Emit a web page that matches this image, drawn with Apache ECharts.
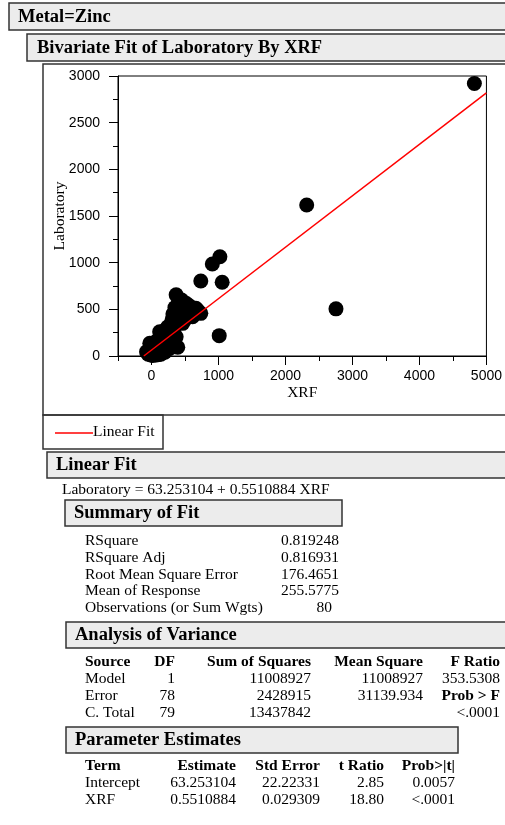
<!DOCTYPE html>
<html><head><meta charset="utf-8">
<script src="https://cdn.jsdelivr.net/npm/echarts@6/dist/echarts.min.js"></script>
<style>html,body{margin:0;padding:0;background:#fff}#c{width:505px;height:825px}</style>
</head><body><div id="c"></div>
<script>
const xrf = [4820,2317,2754,1021,908,1055,736,1011,368,392,137,309,
  -74,-25,49,122,270,122,221,368,318,465,613,736,663,515,
  -50,-30,-10,0,10,20,30,40,55,60,70,80,90,100,110,130,150,160,170,180,
  190,200,210,230,240,250,260,280,290,300,320,340,350,380,400,420,430,450,470,490,
  500,530,560,580,600,630,660,690,25,45,75,95,140,190];
const laboratory = [2920,1618,505,1064,986,790,804,218,655,93,243,393,
  46,136,100,46,82,260,225,207,386,350,421,457,511,565,
  20,70,10,40,80,5,55,20,150,70,30,120,60,15,180,90,130,60,200,110,
  160,40,280,150,310,100,200,330,250,140,450,300,520,420,560,470,380,600,430,500,
  390,470,540,460,510,480,460,490,25,85,10,35,20,70];
const fitIntercept = 63.253104;
const fitSlope = 0.5510884;
const xMin = -500, xMax = 5000, yMin = 0, yMax = 3000;
const xMajorTicks = [0,1000,2000,3000,4000,5000];

const summaryLabels = ['RSquare','RSquare Adj','Root Mean Square Error','Mean of Response','Observations (or Sum Wgts)'];
const summaryValues = ['0.819248','0.816931','176.4651','255.5775','80'];
const anovaHeader = ['Source','DF','Sum of Squares','Mean Square','F Ratio'];
const anovaSource = ['Model','Error','C. Total'];
const anovaDF = ['1','78','79'];
const anovaSS = ['11008927','2428915','13437842'];
const anovaMS = ['11008927','31139.934',''];
const anovaF = ['353.5308','Prob > F','<.0001'];
const paramHeader = ['Term','Estimate','Std Error','t Ratio','Prob>|t|'];
const paramTerm = ['Intercept','XRF'];
const paramEstimate = ['63.253104','0.5510884'];
const paramStdErr = ['22.22331','0.029309'];
const paramT = ['2.85','18.80'];
const paramP = ['0.0057','<.0001'];

const SERIF = '"Liberation Serif","Times New Roman",serif';
const SANS = '"Liberation Sans",Arial,sans-serif';
const HB = 'bold 18.5px ' + SERIF;
const TR = '15.5px ' + SERIF;
const TB = 'bold 15.5px ' + SERIF;

function txt(x, y, s, font, align) {
  return {type:'text', x:x, y:y, z:10, style:{text:s, font:font, fill:'#000', textAlign:align||'left', textVerticalAlign:'middle'}};
}
function box(x, y, w, h, fill) {
  return {type:'rect', z:5, shape:{x:x, y:y, width:w, height:h}, style:{fill:fill||'none', stroke:'#333', lineWidth:1.5}};
}

const g = [];
g.push(box(9,3,520,27,'#ececec'), txt(18,17,'Metal=Zinc',HB));
g.push(box(27,34,500,27,'#ececec'), txt(37,48,'Bivariate Fit of Laboratory By XRF',HB));
g.push(box(43,64,500,351));
g.push(box(43,415,120,34));
g.push({type:'line', z:10, shape:{x1:55,y1:433,x2:93,y2:433}, style:{stroke:'#ff0000', lineWidth:1.5}});
g.push(txt(93,432,'Linear Fit',TR));
g.push(box(47,452,480,26,'#ececec'), txt(56,465,'Linear Fit',HB));
g.push(txt(62,490,'Laboratory = ' + fitIntercept.toFixed(6) + ' + ' + fitSlope.toFixed(7) + ' XRF',TR));
g.push(box(65,500,277,26,'#ececec'), txt(74,513,'Summary of Fit',HB));
summaryLabels.forEach((s,i)=>{
  const y = 541 + i*16.8;
  g.push(txt(85,y,s,TR));
  g.push(txt(i===4?332:339,y,summaryValues[i],TR,'right'));
});
g.push(box(66,622,460,26,'#ececec'), txt(75,635,'Analysis of Variance',HB));
const anovaX = [85,175,311,423,500];
anovaHeader.forEach((s,j)=>g.push(txt(anovaX[j],662,s,TB,j===0?'left':'right')));
anovaSource.forEach((s,i)=>{
  const y = 679 + i*16.8;
  g.push(txt(anovaX[0],y,s,TR));
  g.push(txt(anovaX[1],y,anovaDF[i],TR,'right'));
  g.push(txt(anovaX[2],y,anovaSS[i],TR,'right'));
  g.push(txt(anovaX[3],y,anovaMS[i],TR,'right'));
  g.push(txt(anovaX[4],y,anovaF[i],anovaF[i]==='Prob > F'?TB:TR,'right'));
});
g.push(box(66,727,392,26,'#ececec'), txt(75,740,'Parameter Estimates',HB));
const parX = [85,236,320,384,455];
paramHeader.forEach((s,j)=>g.push(txt(parX[j],766,s,TB,j===0?'left':'right')));
paramTerm.forEach((s,i)=>{
  const y = 783 + i*16.8;
  g.push(txt(parX[0],y,s,TR));
  g.push(txt(parX[1],y,paramEstimate[i],TR,'right'));
  g.push(txt(parX[2],y,paramStdErr[i],TR,'right'));
  g.push(txt(parX[3],y,paramT[i],TR,'right'));
  g.push(txt(parX[4],y,paramP[i],TR,'right'));
});

const pts = xrf.map((x,i)=>[x, laboratory[i]]);
const fitX0 = -fitIntercept/fitSlope;
const fitLine = [[fitX0, fitIntercept + fitSlope*fitX0],[xMax, fitIntercept + fitSlope*xMax]];

const chart = echarts.init(document.getElementById('c'), null, {renderer:'canvas'});
chart.setOption({
  animation:false,
  backgroundColor:'#fff',
  grid:{left:118, top:76, width:373, height:280, show:true, borderColor:'#000', borderWidth:1, backgroundColor:'#fff'},
  xAxis:[{
    type:'value', min:xMin, max:xMax, interval:500,
    name:'XRF', nameLocation:'middle', nameGap:29, nameMoveOverlap:false,
    nameTextStyle:{fontFamily:SERIF, fontSize:15.5, color:'#000'},
    axisLine:{show:true, onZero:false, lineStyle:{color:'#000', width:1}},
    axisTick:{show:true, length:5, lineStyle:{color:'#000'}},
    axisLabel:{show:true, margin:13, fontFamily:SANS, fontSize:14, color:'#000',
      formatter:v=> (v % 1000 === 0 ? String(v) : '')},
    splitLine:{show:false}
  },{
    type:'value', min:xMin, max:xMax, interval:500, position:'bottom',
    axisLine:{show:false, onZero:false},
    axisTick:{show:true, length:9, customValues:xMajorTicks, lineStyle:{color:'#000'}},
    axisLabel:{show:false}, splitLine:{show:false}
  }],
  yAxis:{
    type:'value', min:yMin, max:yMax, interval:500,
    name:'Laboratory', nameLocation:'middle', nameGap:50, nameRotate:90, nameMoveOverlap:false,
    nameTextStyle:{fontFamily:SERIF, fontSize:15.5, color:'#000'},
    axisLine:{show:true, onZero:false, lineStyle:{color:'#000', width:1}},
    axisTick:{show:true, length:9, lineStyle:{color:'#000'}},
    minorTick:{show:true, splitNumber:2, length:5, lineStyle:{color:'#000'}},
    axisLabel:{margin:18, fontFamily:SANS, fontSize:14, color:'#000', formatter:v=>String(v)},
    splitLine:{show:false}
  },
  series:[{
    type:'scatter', xAxisIndex:0, data:pts, symbol:'circle', symbolSize:15,
    itemStyle:{color:'#000', opacity:1}, z:3
  },{
    type:'line', xAxisIndex:0, data:fitLine, symbol:'none', clip:true,
    lineStyle:{color:'#ff0000', width:1.5}, z:4
  }],
  graphic:g
});
</script></body></html>
